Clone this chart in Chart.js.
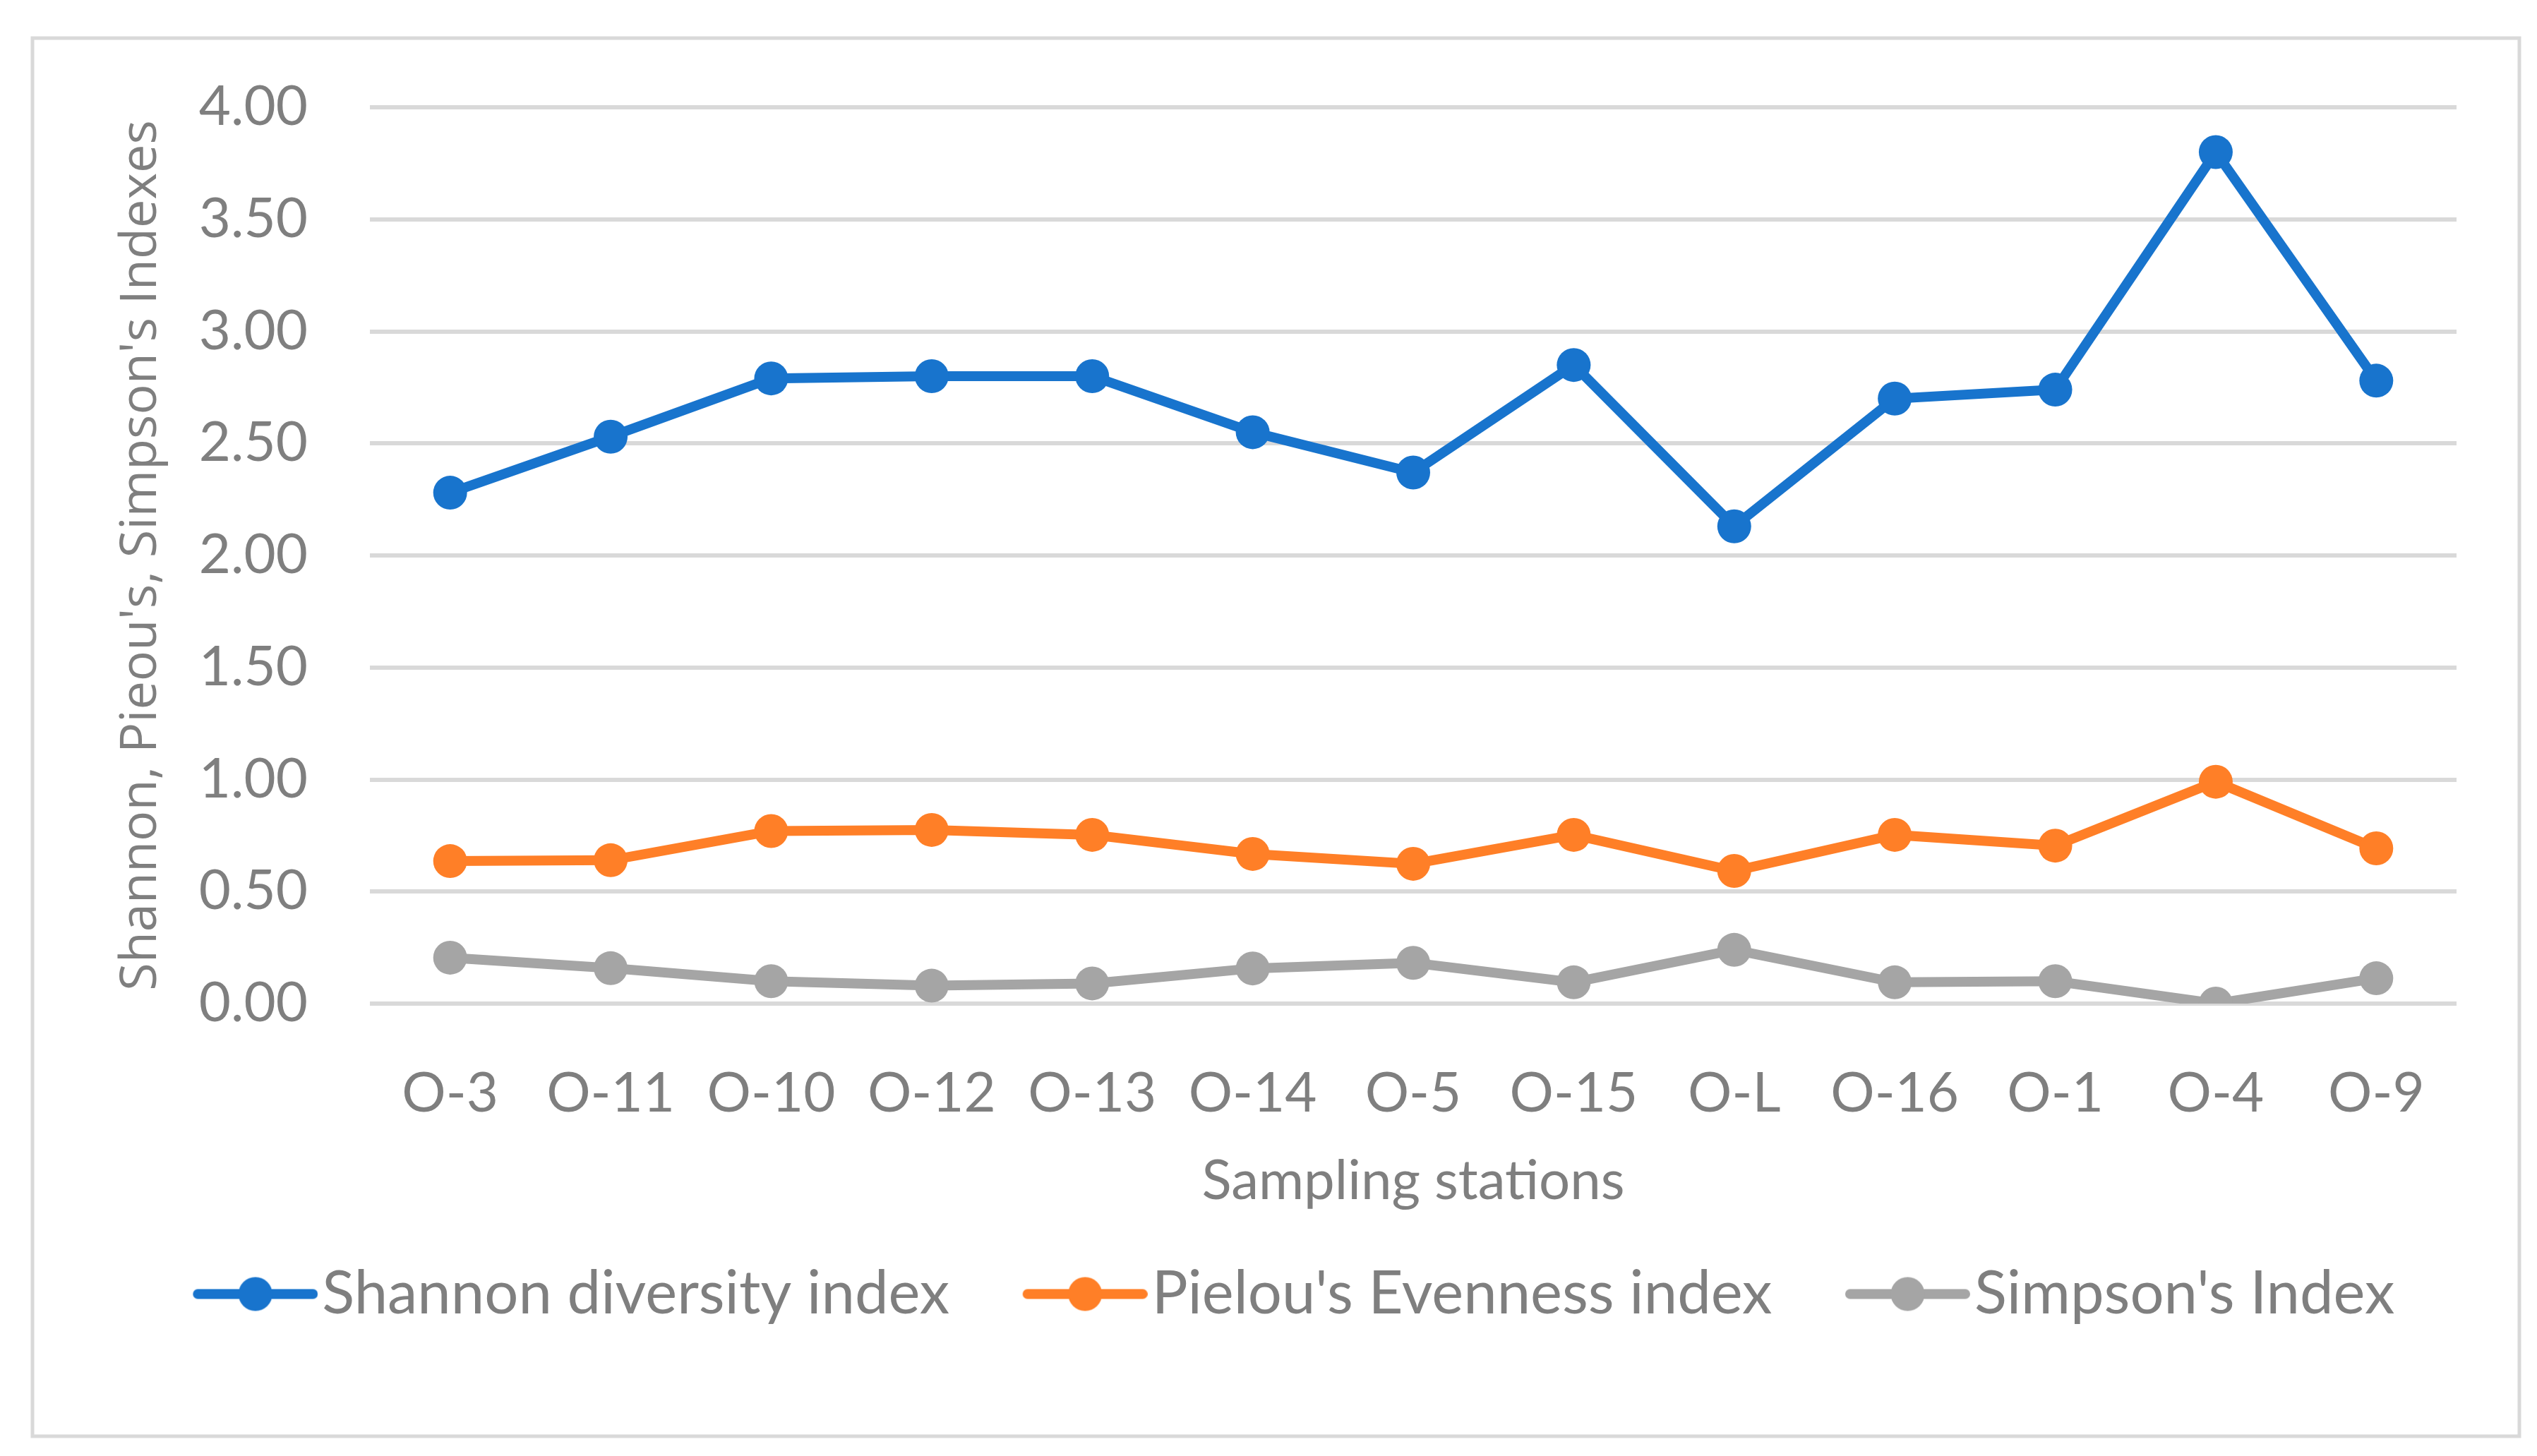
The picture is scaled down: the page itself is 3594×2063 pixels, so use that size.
<!DOCTYPE html>
<html>
<head>
<meta charset="utf-8">
<script src="https://cdn.jsdelivr.net/npm/chart.js@4.4.1/dist/chart.umd.min.js"></script>
<style>
  html, body { margin: 0; padding: 0; background: #fff; }
  canvas { display: block; }
</style>
</head>
<body>
<canvas id="chart" width="3594" height="2063"></canvas>
<script>
// data
const stations = ["O-3", "O-11", "O-10", "O-12", "O-13", "O-14", "O-5", "O-15", "O-L", "O-16", "O-1", "O-4", "O-9"];
const shannon = [2.28, 2.53, 2.79, 2.80, 2.80, 2.55, 2.37, 2.85, 2.13, 2.70, 2.74, 3.80, 2.78];
const pielou  = [0.636, 0.640, 0.770, 0.775, 0.753, 0.668, 0.624, 0.753, 0.592, 0.753, 0.705, 0.990, 0.693];
const simpson = [0.205, 0.158, 0.100, 0.080, 0.090, 0.157, 0.182, 0.095, 0.240, 0.095, 0.100, 0.000, 0.113];
const yTicks = [0, 0.5, 1, 1.5, 2, 2.5, 3, 3.5, 4];

const textColor = '#7f7f7f';
const gridColor = '#d9d9d9';
const colors = ['#1874cd', '#ff7f27', '#a5a5a5'];

// legend symbol: line with a dot in the middle (left part of the image is empty space)
function legendMarker(color) {
    const c = document.createElement('canvas');
    c.width = 253;
    c.height = 52;
    const g = c.getContext('2d');
    g.strokeStyle = color;
    g.lineWidth = 14;
    g.lineCap = 'round';
    g.beginPath();
    g.moveTo(83, 26);
    g.lineTo(246, 26);
    g.stroke();
    g.fillStyle = color;
    g.beginPath();
    g.arc(164.5, 26, 24, 0, 2 * Math.PI);
    g.fill();
    return c;
}
const markers = colors.map(legendMarker);

const frame = {
    id: 'frame',
    beforeDraw(chart) {
        const ctx = chart.ctx;
        ctx.save();
        ctx.fillStyle = '#fff';
        ctx.fillRect(0, 0, chart.width, chart.height);
        ctx.strokeStyle = gridColor;
        ctx.lineWidth = 5;
        ctx.strokeRect(46, 54, 3523, 1981);
        ctx.restore();
    }
};

function lineSet(label, data, color) {
    return {
        label: label,
        data: data,
        borderColor: color,
        backgroundColor: color,
        borderWidth: 14,
        pointRadius: 24,
        pointHoverRadius: 24,
        pointBorderWidth: 0,
        pointBackgroundColor: color,
        tension: 0,
        fill: false
    };
}

const tickFont = { family: 'Lato', size: 78 };

new Chart(document.getElementById('chart'), {
    type: 'line',
    data: {
        labels: stations,
        datasets: [
            lineSet('Shannon diversity index', shannon, colors[0]),
            lineSet("Pielou's Evenness index", pielou, colors[1]),
            lineSet("Simpson's Index", simpson, colors[2])
        ]
    },
    options: {
        responsive: false,
        animation: false,
        devicePixelRatio: 1,
        layout: { padding: { left: 146, right: 114, top: 152, bottom: 177 } },
        plugins: {
            tooltip: { enabled: false },
            legend: {
                position: 'bottom',
                labels: {
                    usePointStyle: true,
                    pointStyleWidth: 180,
                    padding: 64,
                    color: textColor,
                    font: { family: 'Lato', size: 85 },
                    generateLabels: (chart) => chart.data.datasets.map((ds, i) => ({
                        text: ds.label,
                        pointStyle: markers[i],
                        fillStyle: ds.borderColor,
                        strokeStyle: ds.borderColor,
                        lineWidth: 0,
                        fontColor: textColor,
                        datasetIndex: i,
                        hidden: false
                    }))
                }
            }
        },
        scales: {
            x: {
                offset: true,
                grid: { display: false, drawTicks: false },
                border: { display: false },
                ticks: { color: textColor, font: tickFont, padding: 81, maxRotation: 0, autoSkip: false },
                title: {
                    display: true,
                    text: 'Sampling stations',
                    color: textColor,
                    font: tickFont,
                    padding: { top: 0, bottom: 6 }
                },
                afterFit: (axis) => { axis.height = 305; }
            },
            y: {
                min: 0,
                max: 4,
                afterBuildTicks: (axis) => { axis.ticks = yTicks.map(v => ({ value: v })); },
                grid: { color: gridColor, lineWidth: 6, drawTicks: false },
                border: { display: false },
                ticks: {
                    color: textColor,
                    font: tickFont,
                    padding: 88,
                    callback: (v) => Number(v).toFixed(2)
                },
                title: {
                    display: true,
                    text: "Shannon, Pieou's, Simpson's Indexes",
                    color: textColor,
                    font: { family: 'Open Sans', size: 72 },
                    padding: { top: 11, bottom: 0 }
                },
                afterFit: (axis) => { axis.width = 378; }
            }
        }
    },
    plugins: [frame]
});
</script>
</body>
</html>
